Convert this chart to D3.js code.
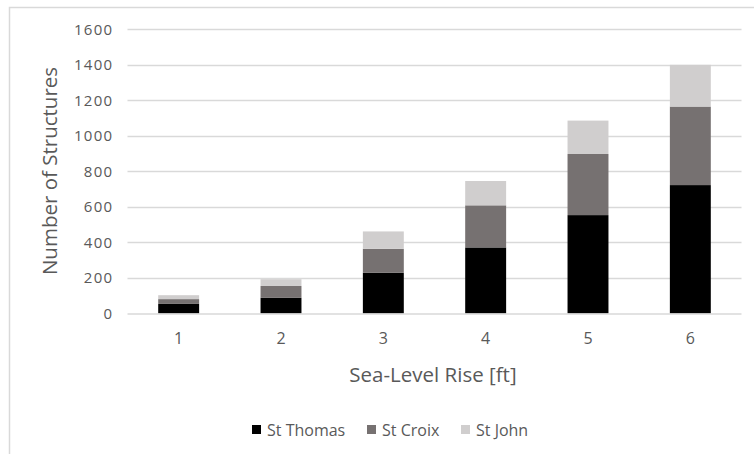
<!DOCTYPE html>
<html><head><meta charset="utf-8">
<script src="https://cdn.jsdelivr.net/npm/d3@7/dist/d3.min.js"></script>
<style>body{margin:0;background:#fff}svg{display:block}text{font-family:"Open Sans",sans-serif;fill:#595959}</style>
</head><body><svg id="c" width="754" height="454"></svg>
<script>
const categories = ["1","2","3","4","5","6"];
const seriesNames = ["St Thomas","St Croix","St John"];
const stThomas = [54, 88, 229, 372, 554, 723];
const stCroix = [27, 67, 135, 237, 344, 442];
const stJohn = [22, 38, 98, 137, 188, 235];
const yTicks = [0,200,400,600,800,1000,1200,1400,1600];
const colors = ["#000000","#767171","#d0cece"];

const svg = d3.select("#c");
svg.append("rect").attr("x",9.5).attr("y",7.5).attr("width",760).attr("height",460)
  .attr("fill","none").attr("stroke","#d9d9d9").attr("stroke-width",1.5);

const m = {l:127.5, r:741.5, t:29.3, b:313.5};
const x = d3.scaleBand().domain(categories).range([m.l,m.r]).paddingInner(0.6).paddingOuter(0.3);
const y = d3.scaleLinear().domain([0,1600]).range([m.b,m.t]);

const grid = svg.append("g");
grid.selectAll("line").data(yTicks.filter(d=>d>0)).join("line")
  .attr("x1",m.l).attr("x2",m.r).attr("y1",d=>Math.round(y(d))+0.5).attr("y2",d=>Math.round(y(d))+0.5)
  .attr("stroke","#d9d9d9").attr("stroke-width",1.5);

const rows = categories.map((c,i)=>({cat:c,"St Thomas":stThomas[i],"St Croix":stCroix[i],"St John":stJohn[i]}));
const stack = d3.stack().keys(seriesNames)(rows);
svg.append("g").selectAll("g").data(stack).join("g").attr("fill",(d,i)=>colors[i])
  .selectAll("rect").data(d=>d).join("rect")
  .attr("x",d=>x(d.data.cat)).attr("width",x.bandwidth())
  .attr("y",d=>y(d[1])).attr("height",d=>y(d[0])-y(d[1]));

svg.append("line").attr("x1",m.l).attr("x2",m.r).attr("y1",m.b+0.5).attr("y2",m.b+0.5)
  .attr("stroke","#d9d9d9").attr("stroke-width",1.5);

const yAxis = d3.axisLeft(y).tickValues(yTicks).tickFormat(d3.format("d")).tickSize(0).tickPadding(0);
const ya = svg.append("g").attr("transform",`translate(${m.l-14},0)`).call(yAxis);
ya.select(".domain").remove();
ya.selectAll("text").style("font-size","15px").style("letter-spacing","1.3px").style("font-family","'Open Sans',sans-serif").attr("fill","#595959");

const xAxis = d3.axisBottom(x).tickSize(0).tickPadding(0);
const xa = svg.append("g").attr("transform",`translate(0,${m.b+19})`).call(xAxis);
xa.select(".domain").remove();
xa.selectAll("text").style("font-size","16px").style("font-family","'Open Sans',sans-serif").attr("fill","#595959");

svg.append("text").attr("x",433).attr("y",382).attr("text-anchor","middle")
  .style("font-size","20.5px").text("Sea-Level Rise [ft]");
svg.append("text").attr("transform",`translate(57,171) rotate(-90)`).attr("text-anchor","middle")
  .style("font-size","20.5px").text("Number of Structures");

const legX = [252, 367, 461];
const lg = svg.append("g");
seriesNames.forEach((s,i)=>{
  lg.append("rect").attr("x",legX[i]).attr("y",425).attr("width",9).attr("height",9).attr("fill",colors[i]);
  lg.append("text").attr("x",legX[i]+15).attr("y",436).style("font-size","16px").text(s);
});
</script></body></html>
